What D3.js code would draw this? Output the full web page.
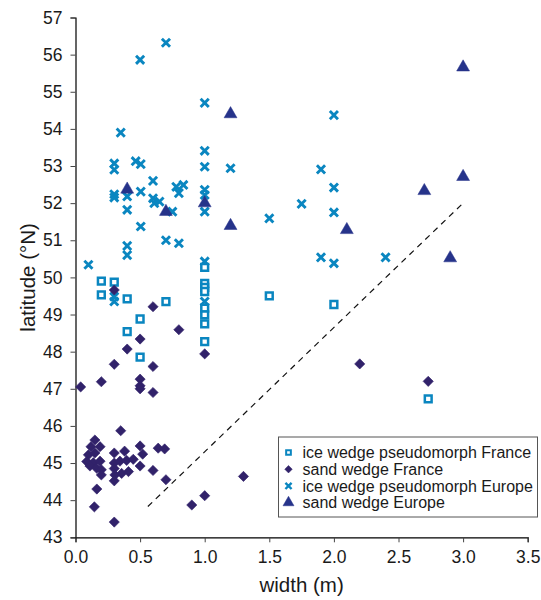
<!DOCTYPE html>
<html>
<head>
<meta charset="utf-8">
<script src="https://cdn.jsdelivr.net/npm/d3@7"></script>
<style>
  html, body { margin: 0; padding: 0; background: #fff; }
  svg { display: block; font-family: "Liberation Sans", Arial, Helvetica, sans-serif; }
</style>
</head>
<body>
<svg id="chart" width="541" height="600"></svg>
<script>
// Ice wedge pseudomorphs (France)
const iceFranceW = [0.2, 0.3, 0.2, 0.4, 0.7, 0.5, 0.4, 0.5, 1.0, 1.0, 1.0, 1.0, 1.0, 1.0, 1.0, 1.0, 1.5, 2.0, 2.73];
const iceFranceLat = [49.9, 49.87, 49.53, 49.42, 49.35, 48.88, 48.54, 47.85, 50.27, 49.84, 49.73, 49.62, 49.17, 48.99, 48.75, 48.27, 49.5, 49.27, 46.73];

// Sand wedges (France)
const sandFranceW = [0.3, 0.6, 0.8, 0.5, 0.4, 1.0, 0.3, 0.6, 0.2, 0.04, 0.5, 0.5, 0.5, 0.6,
  0.35, 0.15, 0.12, 0.19, 0.5, 0.64, 0.69, 0.1, 0.15, 0.3, 0.38, 0.52, 0.087, 0.138, 0.19,
  0.3, 0.344, 0.396, 0.447, 0.112, 0.164, 0.2, 0.5, 0.3, 0.6, 0.2, 0.305, 0.357, 0.41, 0.3,
  0.7, 0.165, 0.146, 0.3, 1.0, 0.9, 1.3, 2.2, 2.73];
const sandFranceLat = [49.66, 49.21, 48.59, 48.34, 48.07, 47.94, 47.66, 47.6, 47.19, 47.05, 47.26, 47.08, 47.0, 46.9,
  45.87, 45.62, 45.44, 45.44, 45.46, 45.4, 45.38, 45.22, 45.27, 45.27, 45.32, 45.24, 45.04, 45.01, 45.05,
  45.0, 45.05, 45.07, 45.1, 44.92, 44.86, 44.82, 44.92, 44.85, 44.8, 44.68, 44.68, 44.72, 44.77, 44.52,
  44.55, 44.3, 43.82, 43.41, 44.12, 43.87, 44.64, 47.67, 47.2];

// Ice wedge pseudomorphs (Europe)
const iceEuropeW = [0.7, 0.5, 1.0, 0.35, 1.0, 0.3, 0.3, 0.466, 0.505, 1.0, 1.2, 0.6, 0.78, 0.835, 0.8,
  0.3, 0.3, 0.4, 0.505, 1.0, 1.0, 1.0, 0.6, 0.61, 0.65, 0.75, 0.4, 0.505, 0.7, 0.8, 0.4, 0.4, 0.1,
  1.0, 0.3, 0.3, 1.0, 2.0, 1.9, 2.0, 1.75, 2.0, 1.5, 1.9, 2.0, 2.4];
const iceEuropeLat = [56.32, 55.86, 54.7, 53.9, 53.41, 53.07, 52.9, 53.13, 53.05, 52.98, 52.94, 52.6, 52.44, 52.49, 52.27,
  52.24, 52.15, 52.18, 52.31, 52.36, 52.22, 51.77, 52.13, 52.0, 52.04, 51.77, 51.82, 51.37, 51.0, 50.92, 50.85, 50.6, 50.34,
  50.43, 49.48, 49.35, 49.35, 54.37, 52.91, 52.42, 51.98, 51.75, 51.59, 50.54, 50.38, 50.54];

// Sand wedges (Europe)
const sandEuropeW = [1.2, 0.4, 1.0, 0.7, 1.2, 2.1, 2.7, 3.0, 3.0, 2.9];
const sandEuropeLat = [54.4, 52.37, 52.0, 51.77, 51.39, 51.28, 52.33, 52.71, 55.66, 50.52];

// Dashed reference line (width, latitude) endpoints
const refLineW = [0.56, 3.0];
const refLineLat = [43.83, 52.0];

// Axis ticks
const xTicks = [0, 0.5, 1.0, 1.5, 2.0, 2.5, 3.0, 3.5];
const yTicks = [43, 44, 45, 46, 47, 48, 49, 50, 51, 52, 53, 54, 55, 56, 57];

const seriesNames = ["ice wedge pseudomorph France", "sand wedge France", "ice wedge pseudomorph Europe", "sand wedge Europe"];

const svg = d3.select("#chart");
const x = d3.scaleLinear().domain([0, 3.5]).range([75.5, 527.7]);
const y = d3.scaleLinear().domain([43, 57]).range([537.3, 17.5]);

// Custom "times" cross symbol, drawn as stroked lines
const timesSymbol = {
  draw(ctx, size) {
    const r = Math.sqrt(size) / 2;
    ctx.moveTo(-r, -r); ctx.lineTo(r, r);
    ctx.moveTo(r, -r); ctx.lineTo(-r, r);
  }
};

const blueLight = "#0a86c0";
const purple = "#31226a";
const navy = "#26338a";

const styles = [
  { type: d3.symbolSquare, size: 46, fill: "#fff", stroke: blueLight, sw: 2.5, rot: 0 },
  { type: d3.symbolSquare, size: 52, fill: purple, stroke: purple, sw: 0.6, rot: 45 },
  { type: timesSymbol, size: 66, fill: "none", stroke: blueLight, sw: 2.9, rot: 0 },
  { type: d3.symbolTriangle, size: 72, fill: navy, stroke: navy, sw: 0.5, rot: 0 }
];
const legendStyles = [
  { type: d3.symbolSquare, size: 22, fill: "#fff", stroke: blueLight, sw: 2.0, rot: 0 },
  { type: d3.symbolSquare, size: 28, fill: purple, stroke: purple, sw: 0.5, rot: 45 },
  { type: timesSymbol, size: 38, fill: "none", stroke: blueLight, sw: 2.4, rot: 0 },
  { type: d3.symbolTriangle, size: 52, fill: navy, stroke: navy, sw: 0.5, rot: 0 }
];

// Axes
const yAxis = d3.axisLeft(y).tickValues(yTicks).tickFormat(d3.format("d")).tickSize(5).tickPadding(8);
const xAxis = d3.axisBottom(x).tickValues(xTicks).tickFormat(d3.format(".1f")).tickSize(5).tickPadding(8);

const gy = svg.append("g").attr("transform", `translate(${x(0)},0)`).call(yAxis);
const gx = svg.append("g").attr("transform", `translate(0,${y(43)})`).call(xAxis);
[gx, gy].forEach(g => {
  g.select(".domain").attr("stroke", "#000").attr("stroke-width", 1.2);
  g.selectAll(".tick line").attr("stroke", "#444").attr("stroke-width", 1);
  g.selectAll(".tick text").attr("fill", "#1a1a1a").style("font-size", "17.5px")
    .style("font-family", '"Liberation Sans", Arial, sans-serif');
});

// Axis titles
svg.append("text")
  .attr("x", (x(0) + x(3.5)) / 2).attr("y", 592)
  .attr("text-anchor", "middle").attr("fill", "#1a1a1a")
  .style("font-size", "20.5px").text("width (m)");
svg.append("text")
  .attr("transform", `translate(28,${(y(43) + y(57)) / 2}) rotate(-90)`)
  .attr("text-anchor", "middle").attr("dy", "0.35em").attr("fill", "#1a1a1a")
  .style("font-size", "20.5px").text("latitude (°N)");

// Dashed line
svg.append("line")
  .attr("x1", x(refLineW[0])).attr("y1", y(refLineLat[0]))
  .attr("x2", x(refLineW[1])).attr("y2", y(refLineLat[1]))
  .attr("stroke", "#111").attr("stroke-width", 1.2).attr("stroke-dasharray", "6,5");

// Scatter points
const series = [
  [iceFranceW, iceFranceLat],
  [sandFranceW, sandFranceLat],
  [iceEuropeW, iceEuropeLat],
  [sandEuropeW, sandEuropeLat]
];
const drawOrder = [2, 3, 0, 1];
drawOrder.forEach(si => {
  const [ws, lats] = series[si];
  const st = styles[si];
  const pts = ws.map((w, i) => ({ w, lat: lats[i] }));
  svg.append("g").selectAll("path").data(pts).join("path")
    .attr("d", d3.symbol().type(st.type).size(st.size))
    .attr("transform", d => `translate(${x(d.w)},${y(d.lat)}) rotate(${st.rot})`)
    .attr("fill", st.fill).attr("stroke", st.stroke).attr("stroke-width", st.sw);
});

// Legend
const lg = svg.append("g").attr("transform", "translate(278.5,437)");
lg.append("rect").attr("width", 259).attr("height", 80)
  .attr("fill", "#fff").attr("stroke", "#555").attr("stroke-width", 1);
seriesNames.forEach((name, i) => {
  const st = legendStyles[i];
  const cy = 15.5 + i * 16.7;
  lg.append("path")
    .attr("d", d3.symbol().type(st.type).size(st.size))
    .attr("transform", `translate(10,${cy}) rotate(${st.rot})`)
    .attr("fill", st.fill).attr("stroke", st.stroke).attr("stroke-width", st.sw);
  lg.append("text").attr("x", 24).attr("y", cy).attr("dy", "0.35em")
    .attr("fill", "#1a1a1a").style("font-size", "16px").text(name);
});
</script>
</body>
</html>
